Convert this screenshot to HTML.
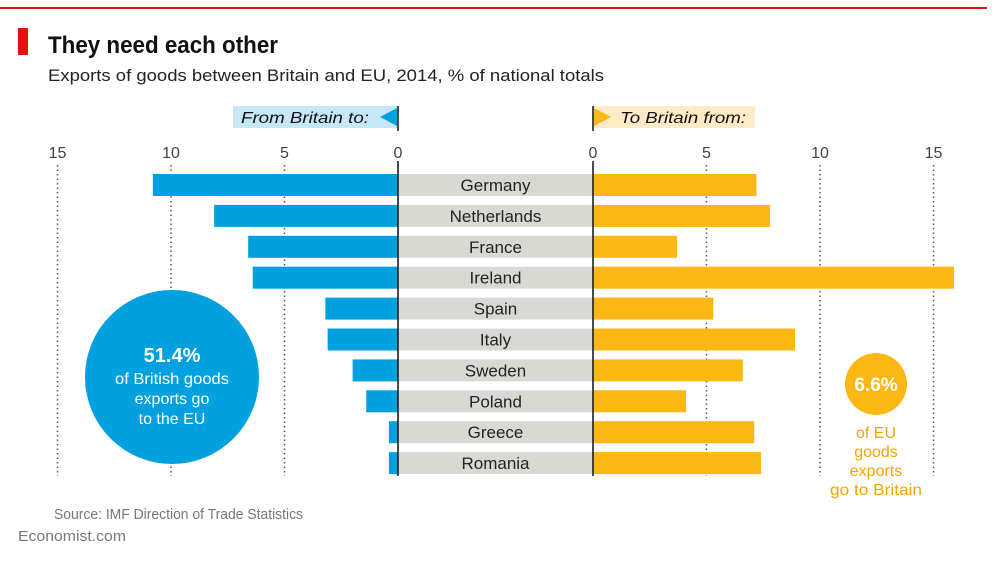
<!DOCTYPE html>
<html><head><meta charset="utf-8"><style>
body{margin:0;background:#fff;font-family:"Liberation Sans",sans-serif;}
#c{position:relative;width:1000px;height:570px;overflow:hidden}
</style></head><body>
<div id="c">
<svg width="1000" height="570" font-family="Liberation Sans, sans-serif">
<rect x="0" y="7" width="987" height="2" fill="#e3120b"/>
<rect x="18" y="28" width="10" height="27" fill="#e3120b"/>
<text x="48" y="53" font-size="24" font-weight="bold" fill="#111" textLength="230" lengthAdjust="spacingAndGlyphs">They need each other</text>
<text x="48" y="81" font-size="17" fill="#222" textLength="556" lengthAdjust="spacingAndGlyphs">Exports of goods between Britain and EU, 2014, % of national totals</text>
<rect x="233" y="106" width="165" height="22" fill="#c5e7f6"/>
<text x="241" y="123" font-family="Liberation Sans, sans-serif" font-size="16" font-style="italic" fill="#111" textLength="128" lengthAdjust="spacingAndGlyphs">From Britain to:</text>
<polygon points="380,117 397,108 397,126" fill="#00a1de"/>
<rect x="593" y="106" width="162" height="22" fill="#fdebc8"/>
<polygon points="594,108 611,117 594,126" fill="#fbb714"/>
<text x="620" y="123" font-family="Liberation Sans, sans-serif" font-size="16" font-style="italic" fill="#111" textLength="126" lengthAdjust="spacingAndGlyphs">To Britain from:</text>
<g id="plot"></g>
<circle cx="172" cy="377" r="87" fill="#00a1de"/>
<text x="172" y="362" font-size="20" font-weight="bold" fill="#fff" text-anchor="middle">51.4%</text>
<text x="172" y="384" font-size="16" fill="#fff" text-anchor="middle" textLength="114" lengthAdjust="spacingAndGlyphs">of British goods</text>
<text x="172" y="404" font-size="16" fill="#fff" text-anchor="middle">exports go</text>
<text x="172" y="424" font-size="16" fill="#fff" text-anchor="middle">to the EU</text>
<circle cx="876" cy="384" r="31" fill="#fbb714"/>
<text x="876" y="391" font-size="19" font-weight="bold" fill="#fff" text-anchor="middle">6.6%</text>
<text x="876" y="438" font-size="16" fill="#f5a300" text-anchor="middle">of EU</text>
<text x="876" y="457" font-size="16" fill="#f5a300" text-anchor="middle">goods</text>
<text x="876" y="476" font-size="16" fill="#f5a300" text-anchor="middle">exports</text>
<text x="876" y="495" font-size="16" fill="#f5a300" text-anchor="middle" textLength="92" lengthAdjust="spacingAndGlyphs">go to Britain</text>
<text x="54" y="519" font-size="15" fill="#777" textLength="249" lengthAdjust="spacingAndGlyphs">Source: IMF Direction of Trade Statistics</text>
<text x="18" y="541" font-size="15" fill="#777" textLength="108" lengthAdjust="spacingAndGlyphs">Economist.com</text>
</svg>
</div>
<script>
const countries=["Germany","Netherlands","France","Ireland","Spain","Italy","Sweden","Poland","Greece","Romania"];
const fromBritain=[10.8,8.1,6.6,6.4,3.2,3.1,2.0,1.4,0.4,0.4];
const toBritain=[7.2,7.8,3.7,15.9,5.3,8.9,6.6,4.1,7.1,7.4];
const ticks=[0,5,10,15];
const NS="http://www.w3.org/2000/svg";
const g=document.getElementById('plot');
const k=22.7, L0=398, R0=593;
const xl=v=>L0-v*k, xr=v=>R0+v*k;
const y=i=>185+i*30.9;
function mk(t,a){const e=document.createElementNS(NS,t);for(const p in a)e.setAttribute(p,a[p]);g.appendChild(e);return e;}
ticks.forEach(t=>{
 [[xl(t),'left'],[xr(t),'right']].forEach(([x,s])=>{
  const tx=mk('text',{x:x,y:158,'font-size':16,fill:'#444','text-anchor':'middle'});
  tx.textContent=t;
  
  
  if(t>0){const ln=mk('line',{x1:x,x2:x,y1:165,y2:476,stroke:'#555','stroke-width':1.5,'stroke-dasharray':'1.5,3'});
   
   }
 });
});
countries.forEach((c,i)=>{
 const band=mk('rect',{x:L0,y:y(i)-11,width:R0-L0,height:22,fill:'#d9d9d4'});
 
 
 const b1=mk('rect',{x:xl(fromBritain[i]),y:y(i)-11,width:fromBritain[i]*k,height:22,fill:'#00a1de'});
 
 
 const b2=mk('rect',{x:R0,y:y(i)-11,width:toBritain[i]*k,height:22,fill:'#fbb714'});
 
 
 const t=mk('text',{x:(L0+R0)/2,y:y(i)+6,'font-size':17,fill:'#222','text-anchor':'middle'});
 t.textContent=c;
 
 
});
[L0,R0].forEach((x,j)=>{
 const ln=mk('line',{x1:x,x2:x,y1:106,y2:476,stroke:'#111','stroke-width':1.5});
 
 
});
[L0,R0].forEach((x,j)=>{
 const r=mk('rect',{x:x-6,y:131,width:12,height:30,fill:'#fff'});
 
 
 const tx=mk('text',{x:x,y:158,'font-size':16,fill:'#444','text-anchor':'middle'});
 tx.textContent='0';
 
 
});
</script>
</body></html>
